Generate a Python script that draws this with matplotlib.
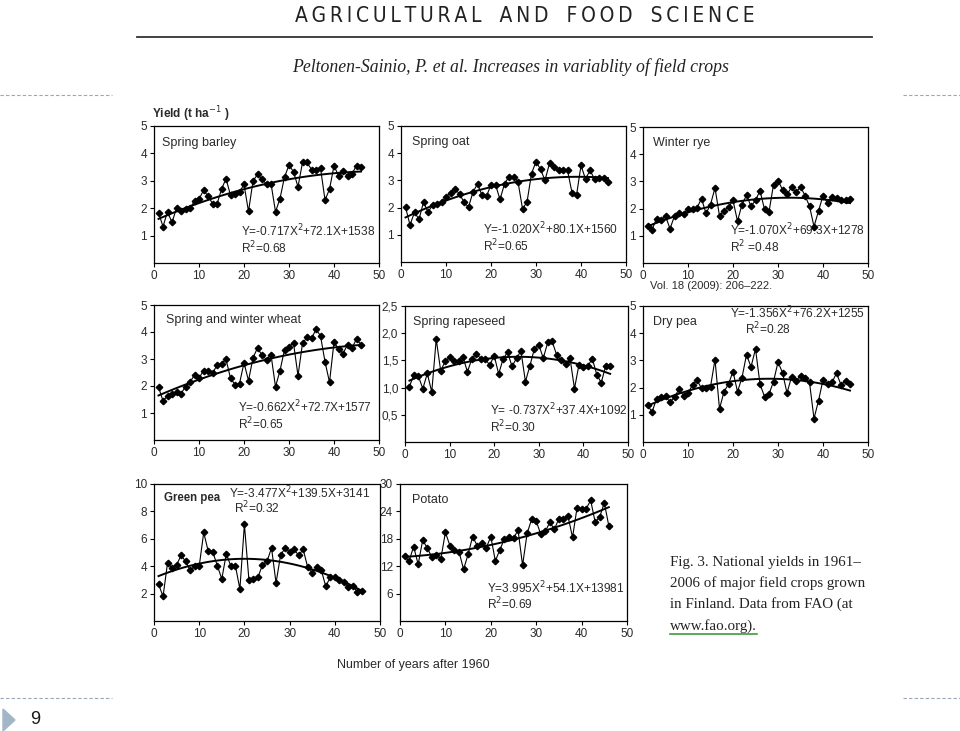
import numpy as np
import matplotlib
matplotlib.use("Agg")
import matplotlib.pyplot as plt
from matplotlib.patches import Polygon
from matplotlib.ticker import FuncFormatter

plt.rcParams['font.family'] = ['Liberation Sans', 'DejaVu Sans']

# years after 1960 (1961-2006)
years = list(range(1, 47))

# national yields, t/ha
spring_barley = [1.84, 1.33, 1.87, 1.48, 2.00, 1.88, 1.96, 2.00, 2.26, 2.33,
                 2.65, 2.45, 2.17, 2.15, 2.69, 3.08, 2.47, 2.53, 2.59, 2.87,
                 1.88, 2.99, 3.23, 3.07, 2.87, 2.90, 1.87, 2.35, 3.14, 3.57,
                 3.33, 2.78, 3.67, 3.67, 3.41, 3.41, 3.47, 2.30, 2.69, 3.55,
                 3.19, 3.35, 3.19, 3.26, 3.55, 3.49]
spring_oat = [2.02, 1.36, 1.83, 1.57, 2.20, 1.84, 2.08, 2.14, 2.20, 2.38,
              2.55, 2.69, 2.50, 2.20, 2.02, 2.57, 2.87, 2.45, 2.42, 2.84,
              2.84, 2.30, 2.87, 3.14, 3.14, 2.95, 1.96, 2.20, 3.25, 3.69,
              3.41, 3.00, 3.63, 3.50, 3.37, 3.37, 3.37, 2.55, 2.45, 3.55,
              3.05, 3.37, 3.05, 3.10, 3.10, 2.93]
winter_rye = [1.36, 1.22, 1.63, 1.57, 1.73, 1.26, 1.73, 1.85, 1.81, 1.99,
              1.99, 2.03, 2.37, 1.82, 2.15, 2.76, 1.73, 1.93, 2.05, 2.30,
              1.54, 2.15, 2.49, 2.09, 2.30, 2.66, 1.97, 1.88, 2.88, 3.03,
              2.70, 2.52, 2.78, 2.60, 2.80, 2.48, 2.09, 1.34, 1.91, 2.48,
              2.21, 2.43, 2.40, 2.32, 2.31, 2.35]
wheat = [1.96, 1.45, 1.63, 1.69, 1.78, 1.72, 1.97, 2.14, 2.41, 2.29,
         2.57, 2.57, 2.47, 2.77, 2.83, 2.99, 2.29, 2.05, 2.09, 2.86,
         2.20, 3.04, 3.41, 3.14, 2.98, 3.16, 1.97, 2.57, 3.34, 3.46,
         3.59, 2.38, 3.58, 3.80, 3.76, 4.10, 3.86, 2.90, 2.14, 3.62,
         3.38, 3.20, 3.53, 3.41, 3.74, 3.53]
rapeseed = [1.02, 1.24, 1.21, 0.98, 1.26, 0.92, 1.89, 1.31, 1.48, 1.56,
            1.48, 1.48, 1.56, 1.29, 1.53, 1.62, 1.53, 1.53, 1.41, 1.59,
            1.25, 1.53, 1.65, 1.39, 1.54, 1.67, 1.11, 1.40, 1.71, 1.79,
            1.54, 1.83, 1.85, 1.60, 1.50, 1.43, 1.54, 0.98, 1.42, 1.37,
            1.40, 1.53, 1.24, 1.09, 1.40, 1.39]
dry_pea = [1.37, 1.10, 1.58, 1.64, 1.70, 1.46, 1.64, 1.95, 1.70, 1.79,
           2.10, 2.27, 1.98, 1.97, 2.03, 3.03, 1.22, 1.85, 2.13, 2.59,
           1.85, 2.37, 3.21, 2.76, 3.42, 2.13, 1.67, 1.76, 2.22, 2.94,
           2.55, 1.80, 2.39, 2.25, 2.43, 2.34, 2.19, 0.86, 1.52, 2.28,
           2.15, 2.19, 2.53, 2.10, 2.25, 2.13]
green_pea = [2.70, 1.79, 4.25, 3.86, 4.10, 4.79, 4.35, 3.69, 4.00, 4.00,
             6.46, 5.09, 5.04, 4.05, 3.07, 4.91, 4.00, 4.05, 2.33, 7.05,
             3.00, 3.07, 3.19, 4.10, 4.35, 5.33, 2.78, 4.79, 5.33, 5.04,
             5.23, 4.79, 5.23, 3.93, 3.51, 3.93, 3.73, 2.53, 3.19, 3.19,
             3.02, 2.87, 2.46, 2.58, 2.09, 2.16]
potato = [14.15, 13.15, 16.3, 12.4, 17.7, 16.0, 14.0, 14.4, 13.65, 19.4,
          16.5, 15.6, 15.2, 11.3, 14.6, 18.5, 16.5, 17.0, 16.0, 18.5,
          13.15, 15.6, 18.0, 18.3, 18.1, 19.9, 12.2, 19.2, 22.3, 21.9,
          19.0, 19.6, 21.6, 20.1, 22.4, 22.4, 23.0, 18.3, 24.8, 24.6,
          24.6, 26.4, 21.6, 22.8, 25.9, 20.8]

# printed regression coefficients (kg/ha): a*X^2 + b*X + c
barley_fit = [-0.717, 72.1, 1538]
oat_fit = [-1.020, 80.1, 1560]
rye_fit = [-1.070, 69.3, 1278]
wheat_fit = [-0.662, 72.7, 1577]
rapeseed_fit = [-0.737, 37.4, 1092]
drypea_fit = [-1.356, 76.2, 1255]
greenpea_fit = [-3.477, 139.5, 3141]
potato_fit = [3.995, 54.1, 13981]

W, H = 960, 731
fig = plt.figure(figsize=(W / 100, H / 100), dpi=100)
fig.patch.set_facecolor('white')

TXT = '#2a2a2a'
EQ_FS = 8.6


def px_axes(left, top, right, bottom):
    return fig.add_axes([left / W, 1 - bottom / H, (right - left) / W, (bottom - top) / H])


def panel(box, values, coefs, yticks, name, name_xy, eq_xy, eq, r2, comma=False):
    ax = px_axes(*box)
    ax.plot(years, values, color='black', lw=0.8, marker='D', ms=3.3, zorder=3)
    xs = np.linspace(years[0], years[-1], 120)
    ax.plot(xs, np.polyval(coefs, xs) / 1000, color='black', lw=1.4, zorder=2)
    ax.set_xlim(0, 50)
    ax.set_ylim(0, yticks[-1])
    ax.set_xticks(range(0, 51, 10))
    ax.set_yticks(yticks)
    if comma:
        ax.yaxis.set_major_formatter(FuncFormatter(lambda v, p: f"{v:.1f}".replace('.', ',')))
    ax.tick_params(labelsize=8.5, length=3, width=0.8, pad=2, colors='black', labelcolor=TXT)
    for s in ax.spines.values():
        s.set_linewidth(0.9)
    ax.text(name_xy[0], name_xy[1], name, transform=ax.transAxes, fontsize=9,
            color=TXT, ha='left', va='center')
    if eq_xy is not None:
        ax.text(eq_xy[0], eq_xy[1], eq + "\n" + r2, transform=ax.transAxes, fontsize=EQ_FS,
                color=TXT, ha='left', va='bottom', linespacing=1.0)
    return ax


y5 = [1, 2, 3, 4, 5]
panel((154, 126, 379, 263), spring_barley, barley_fit, y5, "Spring barley", (0.036, 0.876),
      (0.387, 0.05), "Y=-0.717X$^2$+72.1X+1538", "R$^2$=0.68")
panel((401, 126, 626, 262), spring_oat, oat_fit, y5, "Spring oat", (0.049, 0.883),
      (0.364, 0.06), "Y=-1.020X$^2$+80.1X+1560", "R$^2$=0.65")
panel((643, 127, 868, 263), winter_rye, rye_fit, y5, "Winter rye", (0.044, 0.88),
      (0.387, 0.06), "Y=-1.070X$^2$+69.3X+1278", "R$^2$ =0.48")
panel((154, 305, 379, 440), wheat, wheat_fit, y5, "Spring and winter wheat", (0.053, 0.889),
      (0.373, 0.06), "Y=-0.662X$^2$+72.7X+1577", "R$^2$=0.65")
panel((405, 306, 628, 442), rapeseed, rapeseed_fit, [0.5, 1.0, 1.5, 2.0, 2.5], "Spring rapeseed",
      (0.036, 0.882), (0.38, 0.05), "Y= -0.737X$^2$+37.4X+1092", "R$^2$=0.30", comma=True)
ax6 = panel((643, 306, 868, 442), dry_pea, drypea_fit, y5, "Dry pea", (0.044, 0.882), None, "", "")
ax6.text(0.387, 0.945, "Y=-1.356X$^2$+76.2X+1255", transform=ax6.transAxes, fontsize=EQ_FS,
         color=TXT, ha='left', va='center')
ax6.text(0.453, 0.83, "R$^2$=0.28", transform=ax6.transAxes, fontsize=EQ_FS,
         color=TXT, ha='left', va='center')
ax7 = panel((154, 484, 380, 621), green_pea, greenpea_fit, [2, 4, 6, 8, 10], "Green pea",
            (0.045, 0.9), None, "", "")
ax7.texts[0].set_fontweight('bold')
ax7.texts[0].set_fontsize(8.3)
ax7.text(0.33, 0.935, "Y=-3.477X$^2$+139.5X+3141", transform=ax7.transAxes, fontsize=EQ_FS,
         color=TXT, ha='left', va='center')
ax7.text(0.352, 0.825, "R$^2$=0.32", transform=ax7.transAxes, fontsize=EQ_FS,
         color=TXT, ha='left', va='center')
panel((400, 484, 627, 621), potato, potato_fit, [6, 12, 18, 24, 30], "Potato", (0.053, 0.883),
      (0.383, 0.06), "Y=3.995X$^2$+54.1X+13981", "R$^2$=0.69")

# page furniture
fig.text(152 / W, 1 - 114 / H, "Yield (t ha$^{-1}$ )", fontsize=8.5, fontweight='bold',
         color=TXT, ha='left', va='center')
fig.text(413 / W, 1 - 665 / H, "Number of years after 1960", fontsize=9, color=TXT,
         ha='center', va='center', fontstretch='condensed')
fig.text(650 / W, 1 - 286 / H, "Vol. 18 (2009): 206\u2013222.", fontsize=8, color=TXT,
         ha='left', va='center')

header = "\u2009".join("AGRICULTURAL") + "   " + "\u2009".join("AND") + "   " + \
    "\u2009".join("FOOD") + "   " + "\u2009".join("SCIENCE")
fig.text(525 / W, 1 - 16 / H, header, fontsize=15, color='#222222', ha='center', va='center',
         family=['DejaVu Sans'], fontstretch='condensed')
fig.add_artist(plt.Line2D([137 / W, 872 / W], [1 - 37 / H, 1 - 37 / H], color='#333333', lw=1.3))
fig.text(511 / W, 1 - 67 / H, "Peltonen-Sainio, P. et al. Increases in variablity of field crops",
         fontsize=12.8, style='italic', color='#222222', ha='center', va='center',
         family=['Liberation Serif', 'DejaVu Serif'])

fig.text(670 / W, 1 - 556 / H,
         "Fig. 3. National yields in 1961\u2013\n2006 of major field crops grown\n"
         "in Finland. Data from FAO (at\nwww.fao.org).",
         fontsize=10.8, color='#222222', ha='left', va='top', linespacing=1.68,
         family=['Liberation Serif', 'DejaVu Serif'])
fig.add_artist(plt.Line2D([670 / W, 757 / W], [1 - 634 / H, 1 - 634 / H], color='#3f9a3f', lw=1.2))

for y in (95, 698):
    fig.add_artist(plt.Line2D([0, 112 / W], [1 - y / H] * 2, color='#9aa6b6', lw=0.8, ls=(0, (3, 2))))
    fig.add_artist(plt.Line2D([903 / W, 1], [1 - y / H] * 2, color='#9aa6b6', lw=0.8, ls=(0, (3, 2))))

fig.add_artist(Polygon([[3 / W, 1 - 709 / H], [3 / W, 1 - 731 / H], [15 / W, 1 - 720 / H]],
                       closed=True, color='#a3b6c8', transform=fig.transFigure))
fig.text(30 / W, 1 - 720 / H, "9", fontsize=13, color='#1a1a1a', ha='left', va='center')

fig.savefig("out.png", dpi=100)
